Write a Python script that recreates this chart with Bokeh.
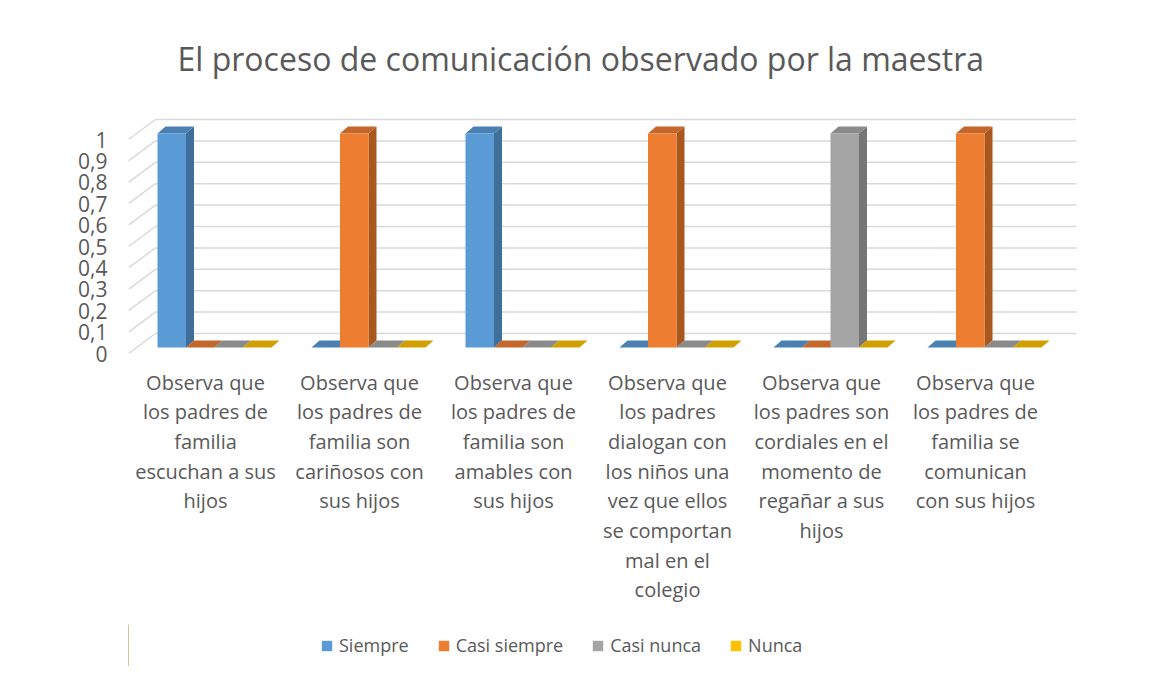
from bokeh.plotting import figure
from bokeh.layouts import column
from bokeh.models import (Range1d, LinearAxis, FixedTicker, Legend, LegendItem,
                          ColumnDataSource, Title)
from bokeh.embed import file_html
from bokeh.resources import INLINE

# ---------------- data ----------------
categories = [
    "Observa que\nlos padres de\nfamilia\nescuchan a sus\nhijos",
    "Observa que\nlos padres de\nfamilia son\ncariñosos con\nsus hijos",
    "Observa que\nlos padres de\nfamilia son\namables con\nsus hijos",
    "Observa que\nlos padres\ndialogan con\nlos niños una\nvez que ellos\nse comportan\nmal en el\ncolegio",
    "Observa que\nlos padres son\ncordiales en el\nmomento de\nregañar a sus\nhijos",
    "Observa que\nlos padres de\nfamilia se\ncomunican\ncon sus hijos",
]
series_names = ["Siempre", "Casi siempre", "Casi nunca", "Nunca"]
siempre = [1, 0, 1, 0, 0, 0]
casi_siempre = [0, 1, 0, 1, 0, 1]
casi_nunca = [0, 0, 0, 0, 1, 0]
nunca = [0, 0, 0, 0, 0, 0]
series_values = [siempre, casi_siempre, casi_nunca, nunca]
y_ticks = [0, 0.1, 0.2, 0.3, 0.4, 0.5, 0.6, 0.7, 0.8, 0.9, 1]
y_tick_labels = ["0", "0,1", "0,2", "0,3", "0,4", "0,5", "0,6", "0,7", "0,8", "0,9", "1"]

# ---------------- style ----------------
front_colors = ["#5B9BD5", "#ED7D31", "#A5A5A5", "#FFC000"]
side_colors = ["#3F6E98", "#A9561F", "#767676", "#B58800"]
top_colors = ["#4A80B2", "#C4672A", "#8A8A8A", "#CFA000"]
text_color = "#595959"
grid_color = "#D9D9D9"
FONT = "Open Sans"

PX_X = 154.0      # pixels per category
PX_Y = 214.0      # pixels per unit value
BAR_W = 28.5 / PX_X
GROUP_SHIFT = 9 / PX_X
DX3 = 8 / PX_X    # depth offset
DY3 = 7 / PX_Y
BACK_DY = 14 / PX_Y
FRONT_DY = -6 / PX_Y
BACK_LEFT = -0.325
GRID_RIGHT = 5.656

FW, FH = 950, 246
x0, x1 = -0.5, -0.5 + FW / PX_X
y0, y1 = -11 / PX_Y, 235 / PX_Y

p = figure(frame_width=FW, frame_height=FH, output_backend="svg", toolbar_location=None,
           x_range=Range1d(x0, x1), y_range=Range1d(y0, y1),
           y_axis_location=None, x_axis_location="below",
           min_border_left=128, min_border_right=71,
           min_border_top=112, min_border_bottom=266)
p.outline_line_color = None
p.grid.visible = False
p.background_fill_color = "white"
p.border_fill_color = "white"

# title
t = Title(text="El proceso de comunicación observado por la maestra", align="left",
          text_font=FONT, text_font_size="32px", text_font_style="normal",
          text_color=text_color, offset=49, standoff=66)
p.add_layout(t, "above")

# gridlines (back wall + left wall diagonals)
gx0 = [x0] * len(y_ticks)
gxb = [BACK_LEFT] * len(y_ticks)
gxr = [GRID_RIGHT] * len(y_ticks)
yf = [v + FRONT_DY for v in y_ticks]
yb = [v + BACK_DY for v in y_ticks]
p.segment(x0=gx0, y0=yf, x1=gxb, y1=yb, line_color=grid_color, line_width=1.5)
p.segment(x0=gxb, y0=yb, x1=gxr, y1=yb, line_color=grid_color, line_width=1.5)

# bars
n = len(series_names)
for j, (name, vals) in enumerate(zip(series_names, series_values)):
    xc = [i + GROUP_SHIFT + (j - (n - 1) / 2) * BAR_W for i in range(len(vals))]
    xl = [c - BAR_W / 2 for c in xc]
    xr = [c + BAR_W / 2 for c in xc]
    # side faces
    side_xs = [[r, r + DX3, r + DX3, r] for r in xr]
    side_ys = [[0, DY3, v + DY3, v] for v in vals]
    p.patches(side_xs, side_ys, fill_color=side_colors[j], line_color=None)
    # top faces
    top_xs = [[l, r, r + DX3, l + DX3] for l, r in zip(xl, xr)]
    top_ys = [[v, v, v + DY3, v + DY3] for v in vals]
    p.patches(top_xs, top_ys, fill_color=top_colors[j], line_color=None)
    # front faces
    src = ColumnDataSource(dict(x=xc, top=vals))
    p.vbar(x="x", top="top", bottom=0, width=BAR_W, source=src,
           fill_color=front_colors[j], line_color=None)

# x axis (categories)
xa = p.xaxis[0]
xa.ticker = FixedTicker(ticks=list(range(len(categories))))
xa.major_label_overrides = {i: c for i, c in enumerate(categories)}
xa.major_label_text_font = FONT
xa.major_label_text_font_size = "20px"
xa.major_label_text_color = text_color
xa.major_label_text_line_height = 1.1
xa.major_label_standoff = 4
xa.major_tick_line_color = None
xa.minor_tick_line_color = None
xa.axis_line_color = None

# y axis on a shifted range (labels sit on the front-left edge)
p.extra_y_ranges = {"lab": Range1d(y0 - FRONT_DY, y1 - FRONT_DY)}
ya = LinearAxis(y_range_name="lab", ticker=FixedTicker(ticks=y_ticks))
ya.major_label_overrides = {v: s for v, s in zip(y_ticks, y_tick_labels)}
ya.major_label_text_font = FONT
ya.major_label_text_font_size = "21px"
ya.major_label_text_color = text_color
ya.major_label_standoff = 15
ya.major_tick_line_color = None
ya.minor_tick_line_color = None
ya.axis_line_color = None
p.add_layout(ya, "left")

# legend strip (separate small figure under the chart)
lf = figure(width=1149, height=42, output_backend="svg", toolbar_location=None,
            x_range=Range1d(0, 1), y_range=Range1d(0, 1),
            x_axis_location=None, y_axis_location=None,
            min_border=0, min_border_left=0, min_border_right=0,
            min_border_top=0, min_border_bottom=0)
lf.outline_line_color = None
lf.grid.visible = False
lf.background_fill_color = "white"
lf.border_fill_color = "white"
legend_items = []
for j, name in enumerate(series_names):
    # legend proxy glyph, placed outside the visible range of the strip
    r = lf.vbar(x=[-5], top=[1], width=0.1, fill_color=front_colors[j], line_color=None)
    legend_items.append(LegendItem(label=name, renderers=[r]))
legend = Legend(items=legend_items, orientation="horizontal", location=(192, 9),
                label_text_font=FONT, label_text_font_size="18px",
                label_text_color=text_color, glyph_width=13, glyph_height=13,
                label_standoff=6, spacing=28, padding=0, margin=0, label_height=24,
                border_line_color=None, background_fill_alpha=0)
lf.add_layout(legend, "center")

layout = column(p, lf, spacing=0)
open("out.html", "w").write(file_html(layout, INLINE))
